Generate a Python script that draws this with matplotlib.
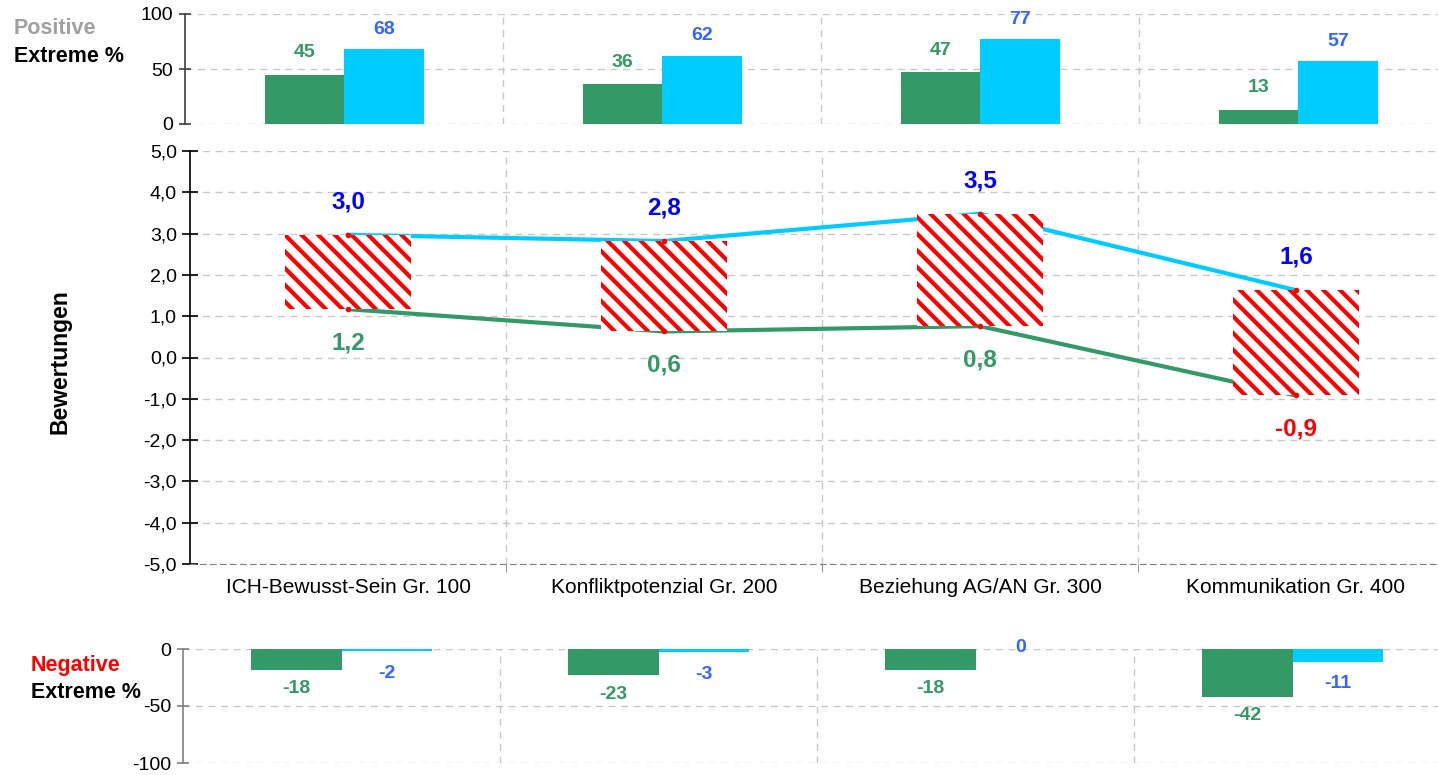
"""Positive / negative extremes with Bewertungen range per group."""

import matplotlib
matplotlib.use("Agg")
import matplotlib.pyplot as plt
from matplotlib.ticker import FixedLocator, FuncFormatter

plt.rcParams["font.family"] = ["Liberation Sans", "DejaVu Sans"]
plt.rcParams["hatch.linewidth"] = 3.0

categories = ["ICH-Bewusst-Sein Gr. 100", "Konfliktpotenzial Gr. 200",
              "Beziehung AG/AN Gr. 300", "Kommunikation Gr. 400"]

pos_green = [45, 36, 47, 13]
pos_cyan = [68, 62, 77, 57]

high_vals = [2.97, 2.82, 3.48, 1.63]
low_vals = [1.17, 0.63, 0.76, -0.92]

neg_green = [-18, -23, -18, -42]
neg_cyan = [-2, -3, 0, -11]

GREEN = "#339966"
CYAN = "#00CCFF"
BLUE_LBL = "#3366FF"
GRID = "#C8C8C8"
W, H = 1438, 775

int_fmt = FuncFormatter(lambda v, _: f"{v:.0f}")


def axes_px(left, top, right, bottom):
    return fig.add_axes([left / W, 1 - bottom / H, (right - left) / W, (bottom - top) / H])


def style(ax, spine_color):
    ax.set_xlim(0, 4)
    for s in ("top", "right"):
        ax.spines[s].set_visible(False)
    ax.spines["bottom"].set_visible(False)
    ax.spines["left"].set_color(spine_color)
    ax.spines["left"].set_linewidth(1.2)
    ax.tick_params(axis="y", direction="inout", length=9, width=1.2,
                   color=spine_color, labelsize=14, pad=4)
    ax.yaxis.grid(True, color=GRID, linestyle=(0, (5, 4)), linewidth=1)
    for xb in (1, 2, 3):
        ax.axvline(xb, color=GRID, linestyle=(0, (5, 4)), linewidth=1, zorder=0)
    ax.set_axisbelow(True)


fig = plt.figure(figsize=(W / 100, H / 100), dpi=100)
xs = [i + 0.5 for i in range(len(categories))]

# --- top: positive extremes -------------------------------------------------
ax_top = axes_px(185, 14, 185 + 4 * 318, 124)
style(ax_top, "#404040")
ax_top.set_ylim(0, 100)
ax_top.set_yticks([0, 50, 100])
ax_top.yaxis.set_major_formatter(int_fmt)
ax_top.set_xticks([])
bw = 0.25
ax_top.bar([x - bw / 2 for x in xs], pos_green, width=bw, color=GREEN, zorder=2)
ax_top.bar([x + bw / 2 for x in xs], pos_cyan, width=bw, color=CYAN, zorder=2)
for x, g, c in zip(xs, pos_green, pos_cyan):
    ax_top.annotate(f"{g}", (x - bw / 2, g), xytext=(0, 22), textcoords="offset pixels",
                    ha="center", va="center", fontsize=14, fontweight="bold", color=GREEN)
    ax_top.annotate(f"{c}", (x + bw / 2, c), xytext=(0, 20), textcoords="offset pixels",
                    ha="center", va="center", fontsize=14, fontweight="bold", color=BLUE_LBL)

# --- middle: Bewertungen ----------------------------------------------------
ax = axes_px(190, 151, 190 + 4 * 316, 564)
style(ax, "black")
ax.set_ylim(-5, 5)
ax.yaxis.set_major_locator(FixedLocator(range(-5, 6)))
ax.yaxis.set_major_formatter(FuncFormatter(lambda v, _: f"{v:.1f}".replace(".", ",")))
ax.tick_params(axis="y", length=11)
ax.spines["bottom"].set_visible(True)
ax.spines["bottom"].set_color("#808080")
ax.spines["bottom"].set_linestyle((0, (5, 4)))
ax.set_xticks(xs)
ax.set_xticklabels(categories, fontsize=15)
ax.tick_params(axis="x", length=0, pad=10)
ax.set_xticks([1, 2, 3], minor=True)
ax.tick_params(axis="x", which="minor", length=6, color="#808080")

ax.plot(xs, high_vals, color=CYAN, linewidth=3, zorder=2)
ax.plot(xs, low_vals, color=GREEN, linewidth=3, zorder=2)
ax.bar(xs, [h - l for h, l in zip(high_vals, low_vals)], bottom=low_vals, width=0.4,
       color="white", edgecolor="red", hatch="\\\\", linewidth=0, zorder=3)
ax.plot(xs, high_vals, "o", color="red", markersize=3, zorder=4)
ax.plot(xs, low_vals, "o", color="red", markersize=3, zorder=4)
for x, h, l in zip(xs, high_vals, low_vals):
    ax.annotate(f"{h:.1f}".replace(".", ","), (x, h), xytext=(0, 33), textcoords="offset pixels",
                ha="center", va="center", fontsize=17.5, fontweight="bold", color="#0000FF")
    ax.annotate(f"{l:.1f}".replace(".", ","), (x, l), xytext=(0, -34), textcoords="offset pixels",
                ha="center", va="center", fontsize=17.5, fontweight="bold",
                color="red" if l < 0 else GREEN)

fig.text(60 / W, 1 - 362 / H, "Bewertungen", rotation=90, ha="center", va="center",
         fontsize=16.5, fontweight="bold")

# --- bottom: negative extremes ----------------------------------------------
ax_bot = axes_px(183, 649, 183 + 4 * 317, 763)
style(ax_bot, "#808080")
ax_bot.set_ylim(-100, 0)
ax_bot.set_yticks([-100, -50, 0])
ax_bot.yaxis.set_major_formatter(int_fmt)
ax_bot.set_xticks([])
bw2 = 0.287
ax_bot.bar([x - bw2 / 2 for x in xs], neg_green, width=bw2, color=GREEN, zorder=2)
ax_bot.bar([x + bw2 / 2 for x in xs], neg_cyan, width=bw2, color=CYAN, zorder=2)
for x, g, c in zip(xs, neg_green, neg_cyan):
    ax_bot.annotate(f"{g}", (x - bw2 / 2, g), xytext=(0, -19), textcoords="offset pixels",
                    ha="center", va="center", fontsize=14, fontweight="bold", color=GREEN)
    off = -22 if c < 0 else 2
    ax_bot.annotate(f"{c}", (x + bw2 / 2, c), xytext=(0, off), textcoords="offset pixels",
                    ha="center", va="center", fontsize=14, fontweight="bold", color=BLUE_LBL)

# side captions
fig.text(14 / W, 1 - 29 / H, "Positive", ha="left", va="center", fontsize=15.5,
         fontweight="bold", color="#A0A0A0")
fig.text(14 / W, 1 - 56 / H, "Extreme %", ha="left", va="center", fontsize=15.5,
         fontweight="bold", color="black")
fig.text(31 / W, 1 - 665 / H, "Negative", ha="left", va="center", fontsize=15.5,
         fontweight="bold", color="red")
fig.text(31 / W, 1 - 693 / H, "Extreme %", ha="left", va="center", fontsize=15.5,
         fontweight="bold", color="black")

fig.savefig("out.png", dpi=100)
